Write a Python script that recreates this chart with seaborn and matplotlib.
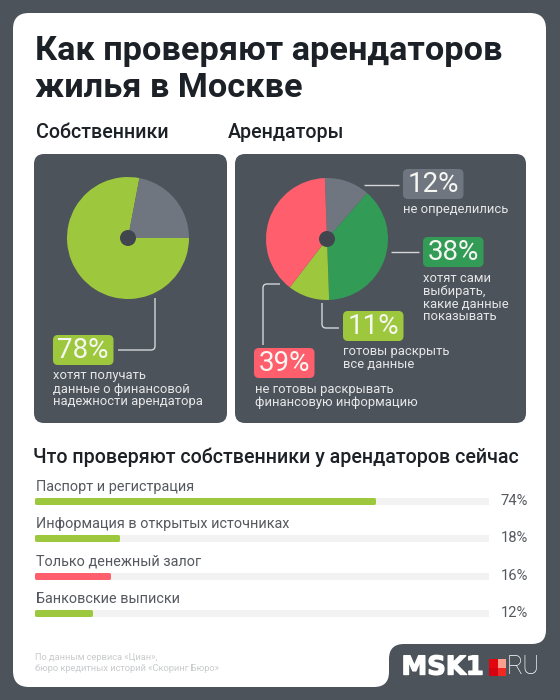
import matplotlib
matplotlib.use("Agg")
import matplotlib.pyplot as plt
import matplotlib.patheffects as pe
import seaborn as sns
from matplotlib.patches import FancyBboxPatch, PathPatch, Rectangle, Circle
from matplotlib.path import Path

title_lines = ["Как проверяют арендаторов", "жилья в Москве"]
owners_title = "Собственники"
renters_title = "Арендаторы"
bars_title = "Что проверяют собственники у арендаторов сейчас"

owner_shares = [78, 22]
renter_shares = [12, 38, 11, 39]

bar_categories = ["Паспорт и регистрация", "Информация в открытых источниках",
                  "Только денежный залог", "Банковские выписки"]
bar_values = [74, 18, 16, 12]
bar_full = [99, 99, 99, 99]

source_lines = ["По данным сервиса «Циан»,", "бюро кредитных историй «Скоринг Бюро»"]

DARK = "#4d535b"
HOLE = "#41464e"
GREEN = "#9dc83e"
DGREEN = "#329b56"
RED = "#ff5f6d"
GRAY = "#6f767f"
TRACK = "#f2f2f2"
INK = "#1c2127"
MID = "#55595f"
CAP = "#e6e7e8"
LINE = "#d4d6d8"

sns.set_theme(style="white")
plt.rcParams["font.family"] = ["Roboto", "DejaVu Sans"]

W, H = 560, 700
fig = plt.figure(figsize=(W / 100, H / 100), dpi=100, facecolor=DARK)
bg = fig.add_axes([0, 0, 1, 1])
bg.set_xlim(0, W)
bg.set_ylim(H, 0)
bg.axis("off")


def axes_px(x0, y0, x1, y1):
    return fig.add_axes([x0 / W, 1 - y1 / H, (x1 - x0) / W, (y1 - y0) / H])


def rrect(x0, y0, x1, y1, r, color, z=1):
    bg.add_patch(FancyBboxPatch((x0 + r, y0 + r), x1 - x0 - 2 * r, y1 - y0 - 2 * r,
                                boxstyle=f"round,pad={r},rounding_size={r}",
                                fc=color, ec="none", zorder=z))


# white card with a notch for the logo
M, L, C3, Z = Path.MOVETO, Path.LINETO, Path.CURVE3, Path.CLOSEPOLY
card = [(M, (29, 13)), (L, (530, 13)), (C3, (546, 13)), (C3, (546, 29)),
        (L, (546, 630)), (C3, (546, 644)), (C3, (532, 644)),
        (L, (404, 644)), (C3, (389, 644)), (C3, (389, 659)),
        (L, (389, 672)), (C3, (389, 687)), (C3, (374, 687)),
        (L, (29, 687)), (C3, (13, 687)), (C3, (13, 671)),
        (L, (13, 29)), (C3, (13, 13)), (C3, (29, 13)), (Z, (29, 13))]
bg.add_patch(PathPatch(Path([p for _, p in card], [c for c, _ in card]),
                       fc="white", ec="none", zorder=0.5))

# titles
for y, s in zip([51, 88], title_lines):
    bg.text(35, y, s, fontsize=24.7, fontweight="bold", color=INK, va="center", ha="left")
bg.text(36, 133, owners_title, fontsize=14.1, fontweight="medium", color=INK, va="center")
bg.text(228, 133, renters_title, fontsize=14.1, fontweight="medium", color=INK, va="center")
bg.text(33, 457, bars_title, fontsize=14.15, fontweight="medium", color=INK, va="center")

# panels
rrect(34, 154, 227, 423, 10, DARK)
rrect(235, 154, 526, 423, 10, DARK)


def pie(cx, cy, r, values, colors, start):
    ax = axes_px(cx - r, cy - r, cx + r, cy + r)
    ax.pie(values, colors=colors, startangle=start, counterclock=False, radius=1,
           wedgeprops={"linewidth": 0})
    ax.set_xlim(-1, 1)
    ax.set_ylim(-1, 1)
    ax.add_patch(Circle((0, 0), 8 / r, fc=HOLE, ec="none", zorder=5))
    ax.patch.set_alpha(0)


pie(128, 238, 61, owner_shares, [GREEN, GRAY], 0)
pie(327, 239, 61, renter_shares, [GRAY, DGREEN, GREEN, RED], 92)


def leader(points):
    codes, verts = [M], [points[0]]
    for i in range(1, len(points) - 1):
        (ax_, ay), (bx, by), (cx, cy) = points[i - 1], points[i], points[i + 1]
        d = 4
        ux = (ax_ > bx) - (ax_ < bx); uy = (ay > by) - (ay < by)
        vx = (cx > bx) - (cx < bx); vy = (cy > by) - (cy < by)
        verts += [(bx + ux * d, by + uy * d), (bx, by), (bx + vx * d, by + vy * d)]
        codes += [L, C3, C3]
    verts.append(points[-1]); codes.append(L)
    bg.add_patch(PathPatch(Path(verts, codes), fc="none", ec=LINE, lw=1.0, zorder=3))


leader([(364, 185), (399, 185)])
leader([(391, 252), (419, 252)])
leader([(322, 303), (322, 328), (339, 328)])
leader([(280, 284), (263, 284), (263, 345)])
leader([(155, 298), (155, 350), (118, 350)])


def badge(x0, y0, value, color):
    rrect(x0, y0, x0 + 60.5, y0 + 30, 5, color, z=3)
    bg.text(x0 + 30.25, y0 + 15.5, f"{value}%", color="#f6f7f2", fontsize=20,
            ha="center", va="center", zorder=4)


def caption(x, y, lines):
    for i, s in enumerate(lines):
        bg.text(x, y + i * 13, s, color=CAP, fontsize=9.35, ha="left", va="center", zorder=4)


badge(403, 169, renter_shares[0], GRAY)
badge(423, 237, renter_shares[1], DGREEN)
badge(343, 311, renter_shares[2], GREEN)
badge(254, 348, renter_shares[3], RED)
badge(53, 335, owner_shares[0], GREEN)
caption(403, 209.5, ["не определились"])
caption(423, 278, ["хотят сами", "выбирать,", "какие данные", "показывать"])
caption(343, 352, ["готовы раскрыть", "все данные"])
caption(255, 389.5, ["не готовы раскрывать", "финансовую информацию"])
caption(53, 376, ["хотят получать", "данные о финансовой", "надежности арендатора"])

# bars
axb = axes_px(35, 482.35, 489, 631.65)
axb.patch.set_alpha(0)
lw_px = 3
sns.barplot(x=bar_full, y=bar_categories, color=TRACK, saturation=1, width=4.2 / 37.3, ax=axb)
sns.barplot(x=bar_values, y=bar_categories, hue=bar_categories,
            palette=[GREEN, GREEN, RED, GREEN], saturation=1, width=4.2 / 37.3,
            legend=False, dodge=False, ax=axb)
for p in axb.patches:
    p.set_edgecolor(p.get_facecolor())
    p.set_linewidth(lw_px * 0.72)
    p.set_joinstyle("round")
axb.set_xlim(-0.3, 99.2)
axb.set_ylim(3.5, -0.5)
axb.axis("off")
for i, (c, v) in enumerate(zip(bar_categories, bar_values)):
    axb.text(0, i - 0.385, c, color=MID, fontsize=10.4, ha="left", va="center")
    axb.text(107.7, i, f"{v}%", color=MID, fontsize=10.6, ha="right", va="center")

# source
for y, s in zip([658, 668.5], source_lines):
    bg.text(35, y, s, color="#c9cbcd", fontsize=6.7, va="center")

# logo
bg.text(401.5, 667.5, "MSK1", color="white", fontsize=18.6, fontweight="bold",
        family="DejaVu Sans", ha="left", va="center",
        path_effects=[pe.withStroke(linewidth=1.0, foreground="white")])
bg.add_patch(Rectangle((489, 659), 8.5, 8.5, fc="#e3060f", ec="none"))
bg.add_patch(Rectangle((497.5, 659), 8.5, 8.5, fc="#f9a08f", ec="none"))
bg.add_patch(Rectangle((489, 667.5), 8.5, 8.5, fc="#d40310", ec="none"))
bg.add_patch(Rectangle((497.5, 667.5), 8.5, 8.5, fc="#f02a22", ec="none"))
bg.text(507, 667.5, "RU", color="white", fontsize=18, fontweight="light", ha="left", va="center")

fig.savefig("out.png", dpi=100, facecolor=DARK)
